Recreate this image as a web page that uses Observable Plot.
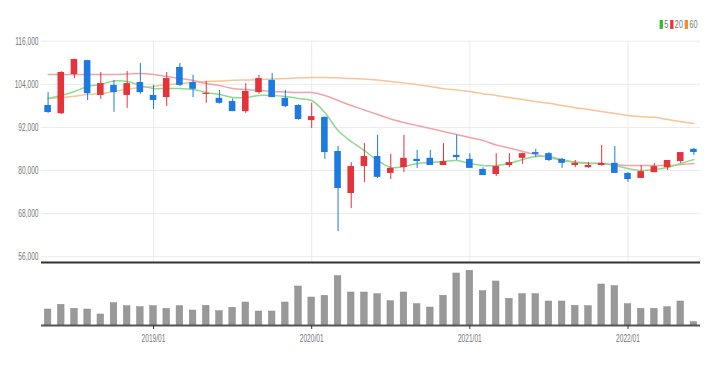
<!DOCTYPE html>
<html><head><meta charset="utf-8">
<script src="https://cdn.jsdelivr.net/npm/d3@7"></script>
<script src="https://cdn.jsdelivr.net/npm/@observablehq/plot@0.6"></script>
<style>
body{margin:0;background:#fff;}
#wrap{position:relative;width:716px;height:365px;font-family:"Liberation Sans",sans-serif;}
#legend{position:absolute;top:19px;right:18px;font-size:11px;color:#777;display:flex;align-items:center;line-height:11px;transform:scaleX(0.66);transform-origin:right center;}
#legend .sw{display:inline-block;width:5px;height:9px;margin:0 2px 0 3px;}
svg{display:block}
</style></head><body><div id="wrap"><div id="legend"></div><div id="price"></div><div id="vol"></div></div>
<script>
const months = ["2018/05","2018/06","2018/07","2018/08","2018/09","2018/10","2018/11","2018/12",
"2019/01","2019/02","2019/03","2019/04","2019/05","2019/06","2019/07","2019/08","2019/09","2019/10","2019/11","2019/12",
"2020/01","2020/02","2020/03","2020/04","2020/05","2020/06","2020/07","2020/08","2020/09","2020/10","2020/11","2020/12",
"2021/01","2021/02","2021/03","2021/04","2021/05","2021/06","2021/07","2021/08","2021/09","2021/10","2021/11","2021/12",
"2022/01","2022/02","2022/03","2022/04","2022/05","2022/06"];
const open  = [98100,95800,106700,110600,100900,103700,100900,104500,100900,100300,108700,104500,101200,100100,99200,96400,101700,105100,100100,98100,
93900,94800,85300,73600,81100,83900,79200,80800,83100,83400,81400,84200,83100,80300,78900,81400,83400,85000,84700,83100,
81400,80800,81400,82000,79200,77800,79400,80800,82500,85900];
const high  = [101700,107500,111000,110700,107300,105100,107600,109800,103700,107300,109800,106500,104800,102300,99900,104200,106500,107000,102300,98300,
98700,94900,86700,82200,87500,89800,84500,89800,85600,85600,87500,89800,84700,80800,84700,84700,84800,85900,85000,83400,
82800,82200,87000,86700,79400,81400,82000,82800,85000,86100];
const low   = [95900,95600,105600,99500,99800,96200,97300,101200,97000,97800,103400,100300,98700,98500,96400,95900,101200,100300,97500,94000,
91700,83100,63000,69400,76700,77800,77500,79400,80600,81400,81400,82800,80600,78600,78300,80800,81700,83600,82500,80600,
80800,80600,81200,79200,76700,77800,79400,80000,82000,84200];
const close = [96150,107300,110900,101400,104200,101700,104200,101700,99500,105600,103700,102600,101500,98700,96400,102000,105600,100300,97800,94200,
95000,85000,75000,81100,83900,78100,80600,83400,82500,81400,82500,83600,80600,78600,81100,82200,84700,84500,82800,82000,
82000,81400,82000,79200,77500,79700,81100,82800,85000,85000];
const volume = [1600,2070,1670,1600,1100,2230,1930,1830,1930,1670,1930,1500,1970,1430,1770,2300,1400,1400,2300,3900,
2800,2970,4930,3300,3300,3130,2430,3300,2130,1800,2970,5200,5470,3430,4400,2670,3130,3130,2400,2400,
1970,1930,4100,3930,2130,1670,1670,1830,2400,330];
const ma5  = [100050,100880,102000,103390,103950,104920,104780,103670,102830,102830,102830,102550,101720,101160,100330,100330,100880,100880,100600,100050,
99490,96150,91140,88080,85570,82790,80840,81120,81950,82230,82510,82790,81950,81400,81400,81950,83070,83900,83900,83070,
82230,81950,81950,81400,80560,80000,80280,80840,81950,83070];
const ma20 = [106730,106730,106730,106730,106730,106730,106870,107010,106730,106170,105620,105060,104220,103670,102830,102550,102280,102000,101860,101720,
101720,100880,99490,98100,96850,95590,94340,93370,92530,91700,90860,90030,89190,88360,87100,86270,85290,84460,83620,82790,
82370,82090,81950,81670,81400,81400,81400,81400,81670,81950];
const ma60 = [100050,100300,100700,101200,101400,102000,102600,103100,103400,103900,104200,104500,104800,104900,105100,105200,105300,105500,105600,105800,
105900,105900,105800,105600,105500,105200,104800,104400,103900,103400,102800,102400,102000,101400,100900,100300,99800,99200,98700,98100,
97500,97000,96400,95900,95300,95000,94800,94200,93600,93100];
const yTicks = [56000,68000,80000,92000,104000,116000];
const xTicks = ["2019/01","2020/01","2021/01","2022/01"];
const legendItems = [{label:"5", color:"#2fbf2f"},{label:"20", color:"#e8383d"},{label:"60", color:"#f0902a"}];

const RED = "#e5333b", BLUE = "#1c7ae0";
const rows = months.map((m,i)=>({month:m, open:open[i], high:high[i], low:low[i], close:close[i], vol:volume[i], ma5:ma5[i], ma20:ma20[i], ma60:ma60[i], up: close[i]>=open[i]}));
const font = '"Liberation Sans",sans-serif';
const xScale = {type:"band", domain:months, paddingInner:0.5, paddingOuter:0.25, round:false, axis:null};

const price = Plot.plot({
  width:716, height:263, marginLeft:41, marginRight:16, marginTop:40.7, marginBottom:1,
  style:{fontFamily:font, fontSize:"11px", background:"transparent", overflow:"visible"},
  x:xScale,
  y:{domain:[54400,116000], axis:null},
  marks:[
    Plot.ruleY(yTicks,{stroke:"#ebebeb"}),
    Plot.ruleX(xTicks,{stroke:"#ebebeb"}),
    Plot.axisY(yTicks,{tickSize:0, tickPadding:3, tickFormat:d3.format(","), fill:"#777", label:null}),
    Plot.line(rows,{x:"month", y:"ma60", stroke:"#f8c595", strokeWidth:1.5, curve:"catmull-rom"}),
    Plot.line(rows,{x:"month", y:"ma20", stroke:"#f3a3a8", strokeWidth:1.5, curve:"catmull-rom"}),
    Plot.line(rows,{x:"month", y:"ma5", stroke:"#8edb8e", strokeWidth:1.5, curve:"catmull-rom"}),
    Plot.ruleX(rows,{x:"month", y1:"low", y2:"high", stroke:d=>d.up?RED:BLUE, strokeWidth:1}),
    Plot.barY(rows,{x:"month", y1:"open", y2:"close", fill:d=>d.up?RED:BLUE}),
    Plot.ruleY([54400],{stroke:"#333", strokeWidth:2})
  ]
});
document.getElementById("price").appendChild(price);

const vol = Plot.plot({
  width:716, height:102, marginLeft:41, marginRight:16, marginTop:0, marginBottom:40,
  style:{fontFamily:font, fontSize:"11px", background:"transparent", overflow:"visible"},
  x:xScale,
  y:{domain:[0,6200], axis:null},
  marks:[
    Plot.barY(rows,{x:"month", y:"vol", fill:"#999", stroke:"#8a8a8a", strokeWidth:0.5}),
    Plot.ruleY([0],{stroke:"#555", strokeWidth:2}),
    Plot.axisX(xTicks,{tickSize:4, tickPadding:5, stroke:"#333", fill:"#777", label:null})
  ]
});
document.getElementById("vol").appendChild(vol);

// condense tick label text horizontally around its anchor, in the text's own coordinates
function condense(svg, s) {
  svg.querySelectorAll("text").forEach(t => {
    const b = t.getBBox();
    const anchor = t.getAttribute("text-anchor") || t.closest("[text-anchor]")?.getAttribute("text-anchor") || "middle";
    const ax = anchor === "end" ? b.x + b.width : anchor === "start" ? b.x : b.x + b.width / 2;
    const prev = t.getAttribute("transform") || "";
    t.setAttribute("transform", `${prev} translate(${ax},0) scale(${s},1) translate(${-ax},0)`);
  });
}
condense(price, 0.6);
condense(vol, 0.6);

const lg = d3.select("#legend");
legendItems.forEach(it=>{
  lg.append("span").attr("class","sw").style("background",it.color);
  lg.append("span").text(it.label);
});
</script>
</body></html>
